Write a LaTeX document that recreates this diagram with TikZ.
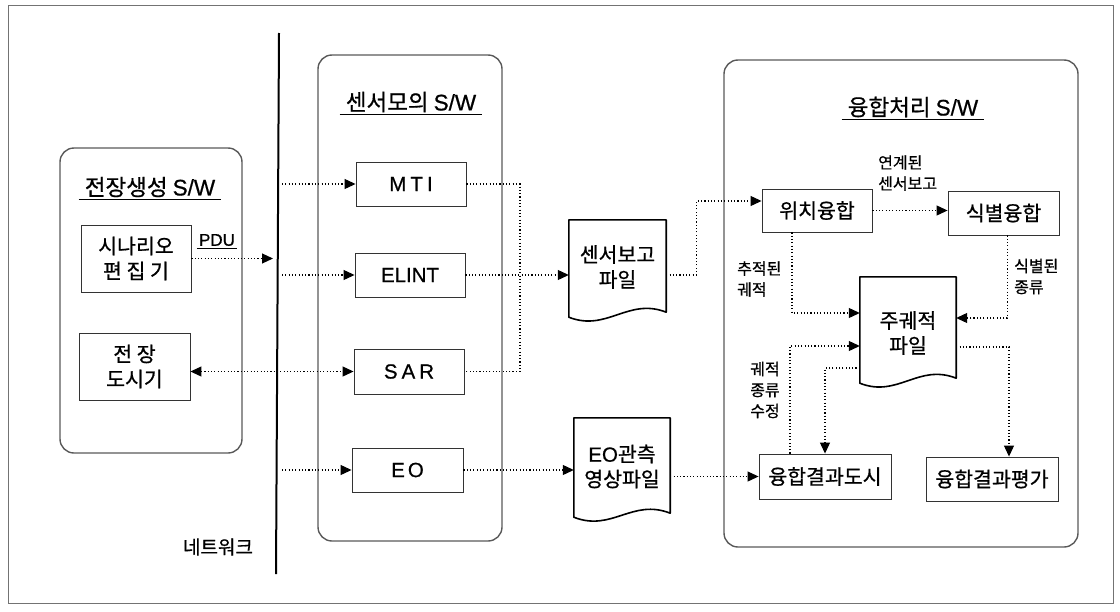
\documentclass[tikz,border=0pt]{standalone}
\usepackage{fontspec}
\setmainfont{Noto Sans CJK KR}[FakeBold=0.7]
\newfontfamily\lat{Liberation Sans}[FakeBold=0.7]
\usetikzlibrary{arrows.meta}

\begin{document}
\begin{tikzpicture}[
  frame/.style={draw=black!65,line width=1.4bp,rounded corners=14bp},
  box/.style={draw=black!80,line width=0.9bp,align=center,font=\fontsize{20.5bp}{25bp}\selectfont},
  doc/.style={align=center,font=\fontsize{20.5bp}{25bp}\selectfont},
  docline/.style={line width=1.6bp,line join=round},
  ttl/.style={font=\fontsize{22.5bp}{26bp}\selectfont,inner xsep=6bp,inner ysep=2bp},
  lbl/.style={font=\fontsize{16bp}{21bp}\selectfont,inner sep=0pt},
  dots/.style={line width=1.1bp,dash pattern=on 1.1bp off 2.2bp},
  flow/.style={dots,-{Triangle[length=11bp,width=10bp]}},
  both/.style={dots,{Triangle[length=11bp,width=10bp]}-{Triangle[length=11bp,width=10bp]}}
]
\useasboundingbox (0,0) rectangle (1120bp,-612bp);
\draw[black!55,line width=0.8bp] (8bp,-5bp) rectangle (1113bp,-603bp);

% network
\coordinate (netT) at (279bp,-33bp);
\coordinate (netB) at (276bp,-574bp);
\coordinate (netR) at (282bp,0bp);
\draw[line width=2bp] (netT) -- (netB);
\node (net) at (218bp,-547bp) [lbl,font=\fontsize{19bp}{21bp}\selectfont] {네트워크};

% the three software blocks
\node (gen) at (151bp,-300.5bp) [frame,minimum width=182bp,minimum height=305bp] {};
\node (sim) at (410bp,-298bp) [frame,minimum width=184bp,minimum height=486bp] {};
\node (fus) at (901bp,-303.5bp) [frame,minimum width=354bp,minimum height=487bp] {};

\node (genT) at (150bp,-187bp) [ttl] {전장생성 {\lat S/W}};
\node (simT) at (411bp,-102bp) [ttl] {센서모의 {\lat S/W}};
\node (fusT) at (913bp,-107bp) [ttl] {융합처리 {\lat S/W}};
\draw[line width=0.8bp] (genT.south west) -- (genT.south east);
\draw[line width=0.8bp] (simT.south west) -- (simT.south east);
\draw[line width=0.8bp] (fusT.south west) -- (fusT.south east);

% scenario side
\node (scen) at (136bp,-258.5bp) [box,minimum width=110bp,minimum height=67bp] {시나리오\\편 집 기};
\node (view) at (134.5bp,-366.5bp) [box,minimum width=111bp,minimum height=67bp] {전 장\\도시기};
\node (pdu) at (217bp,-240bp) [lbl,font=\fontsize{17bp}{20bp}\selectfont,inner xsep=2bp,inner ysep=2bp] {\lat PDU};
\draw[line width=0.8bp] (pdu.south west) -- (pdu.south east);
\coordinate (pduE) at (273bp,-259bp);
\draw[flow] (scen.east) -- (scen.east -| pduE);

% sensors
\node (MTI) at (411bp,-184bp) [box,minimum width=110bp,minimum height=44bp] {{\lat M\kern4bp T\kern4bp I}};
\node (ELINT) at (410bp,-275bp) [box,minimum width=110bp,minimum height=44bp] {{\lat ELINT}};
\node (SAR) at (409bp,-371.5bp) [box,minimum width=110bp,minimum height=45bp] {{\lat S\kern4bp A\kern4bp R}};
\node (EO) at (407.5bp,-470bp) [box,minimum width=111bp,minimum height=44bp] {{\lat E\kern3bp O}};

\draw[flow] (MTI.west -| netR) -- (MTI.west);
\draw[flow] (ELINT.west -| netR) -- (ELINT.west);
\draw[flow] (EO.west -| netR) -- (EO.west);
\draw[both] (view.east |- SAR.west) -- (SAR.west);

\coordinate (bus) at (520bp,0bp);
\draw[dots] (MTI.east) -| (bus |- SAR.east) -- (SAR.east);

% files
\node (rep) at (617.5bp,-267bp) [doc,minimum width=97bp,minimum height=94bp] {센서보고\\파일};
\draw[docline] ([yshift=-3bp]rep.south west) -- (rep.north west) -- (rep.north east) -- ([yshift=2bp]rep.south east)
  .. controls +(-38bp,15bp) and +(38bp,-15bp) .. ([yshift=-3bp]rep.south west) -- cycle;
\node (eofile) at (622bp,-466.5bp) [doc,minimum width=96bp,minimum height=97bp] {{\lat EO}관측\\영상파일};
\draw[docline] ([yshift=-2bp]eofile.south west) -- (eofile.north west) -- (eofile.north east) -- ([yshift=2bp]eofile.south east)
  .. controls +(-38bp,15bp) and +(38bp,-15bp) .. ([yshift=-2bp]eofile.south west) -- cycle;

\draw[flow] (ELINT.east) -- (ELINT.east -| rep.west);
\draw[flow] (EO.east) -- (EO.east -| eofile.west);

% fusion
\node (pos) at (817bp,-210.5bp) [box,minimum width=110bp,minimum height=43bp] {위치융합};
\node (ident) at (1003.5bp,-213bp) [box,minimum width=111bp,minimum height=44bp] {식별융합};
\node (disp) at (825bp,-476.5bp) [box,minimum width=132bp,minimum height=45bp] {융합결과도시};
\node (eval) at (992bp,-479bp) [box,minimum width=132bp,minimum height=44bp] {융합결과평가};
\node (trk) at (908bp,-333bp) [doc,minimum width=96bp,minimum height=100bp] {주궤적\\파일};
\draw[docline] (trk.south west) -- ([yshift=6bp]trk.north west) -- ([yshift=6bp]trk.north east) -- ([yshift=5bp]trk.south east)
  .. controls +(-38bp,15bp) and +(38bp,-15bp) .. (trk.south west) -- cycle;

\draw[flow] ([yshift=-8bp]rep.east) -- ++(30bp,0bp) |- ([yshift=9.5bp]pos.west);
\draw[flow] (pos.east) -- (pos.east -| ident.west);
\draw[flow] ([xshift=-25bp]pos.south) |- ([yshift=20bp]trk.west);
\draw[flow] ([xshift=4bp]ident.south) |- ([yshift=15bp]trk.east);
\draw[flow] ([xshift=-35bp]disp.north) |- ([yshift=-13bp]trk.west);
\draw[flow] ([yshift=-35bp]trk.west) -| (disp.north);
\draw[flow] ([yshift=-14bp]trk.east) -| ([xshift=17bp]eval.north);
\draw[flow] (eofile.east |- disp.west) -- (disp.west);

\node (linkL) at (878bp,-173bp) [lbl,align=left,anchor=west] {연계된\\센서보고};
\node (trkL) at (737bp,-279bp) [lbl,align=left,anchor=west] {추적된\\궤적};
\node (idL) at (1014bp,-276.5bp) [lbl,align=left,anchor=west] {식별된\\종류};
\node (fixL) at (765bp,-390bp) [lbl,align=center] {궤적\\종류\\수정};
\end{tikzpicture}
\end{document}
